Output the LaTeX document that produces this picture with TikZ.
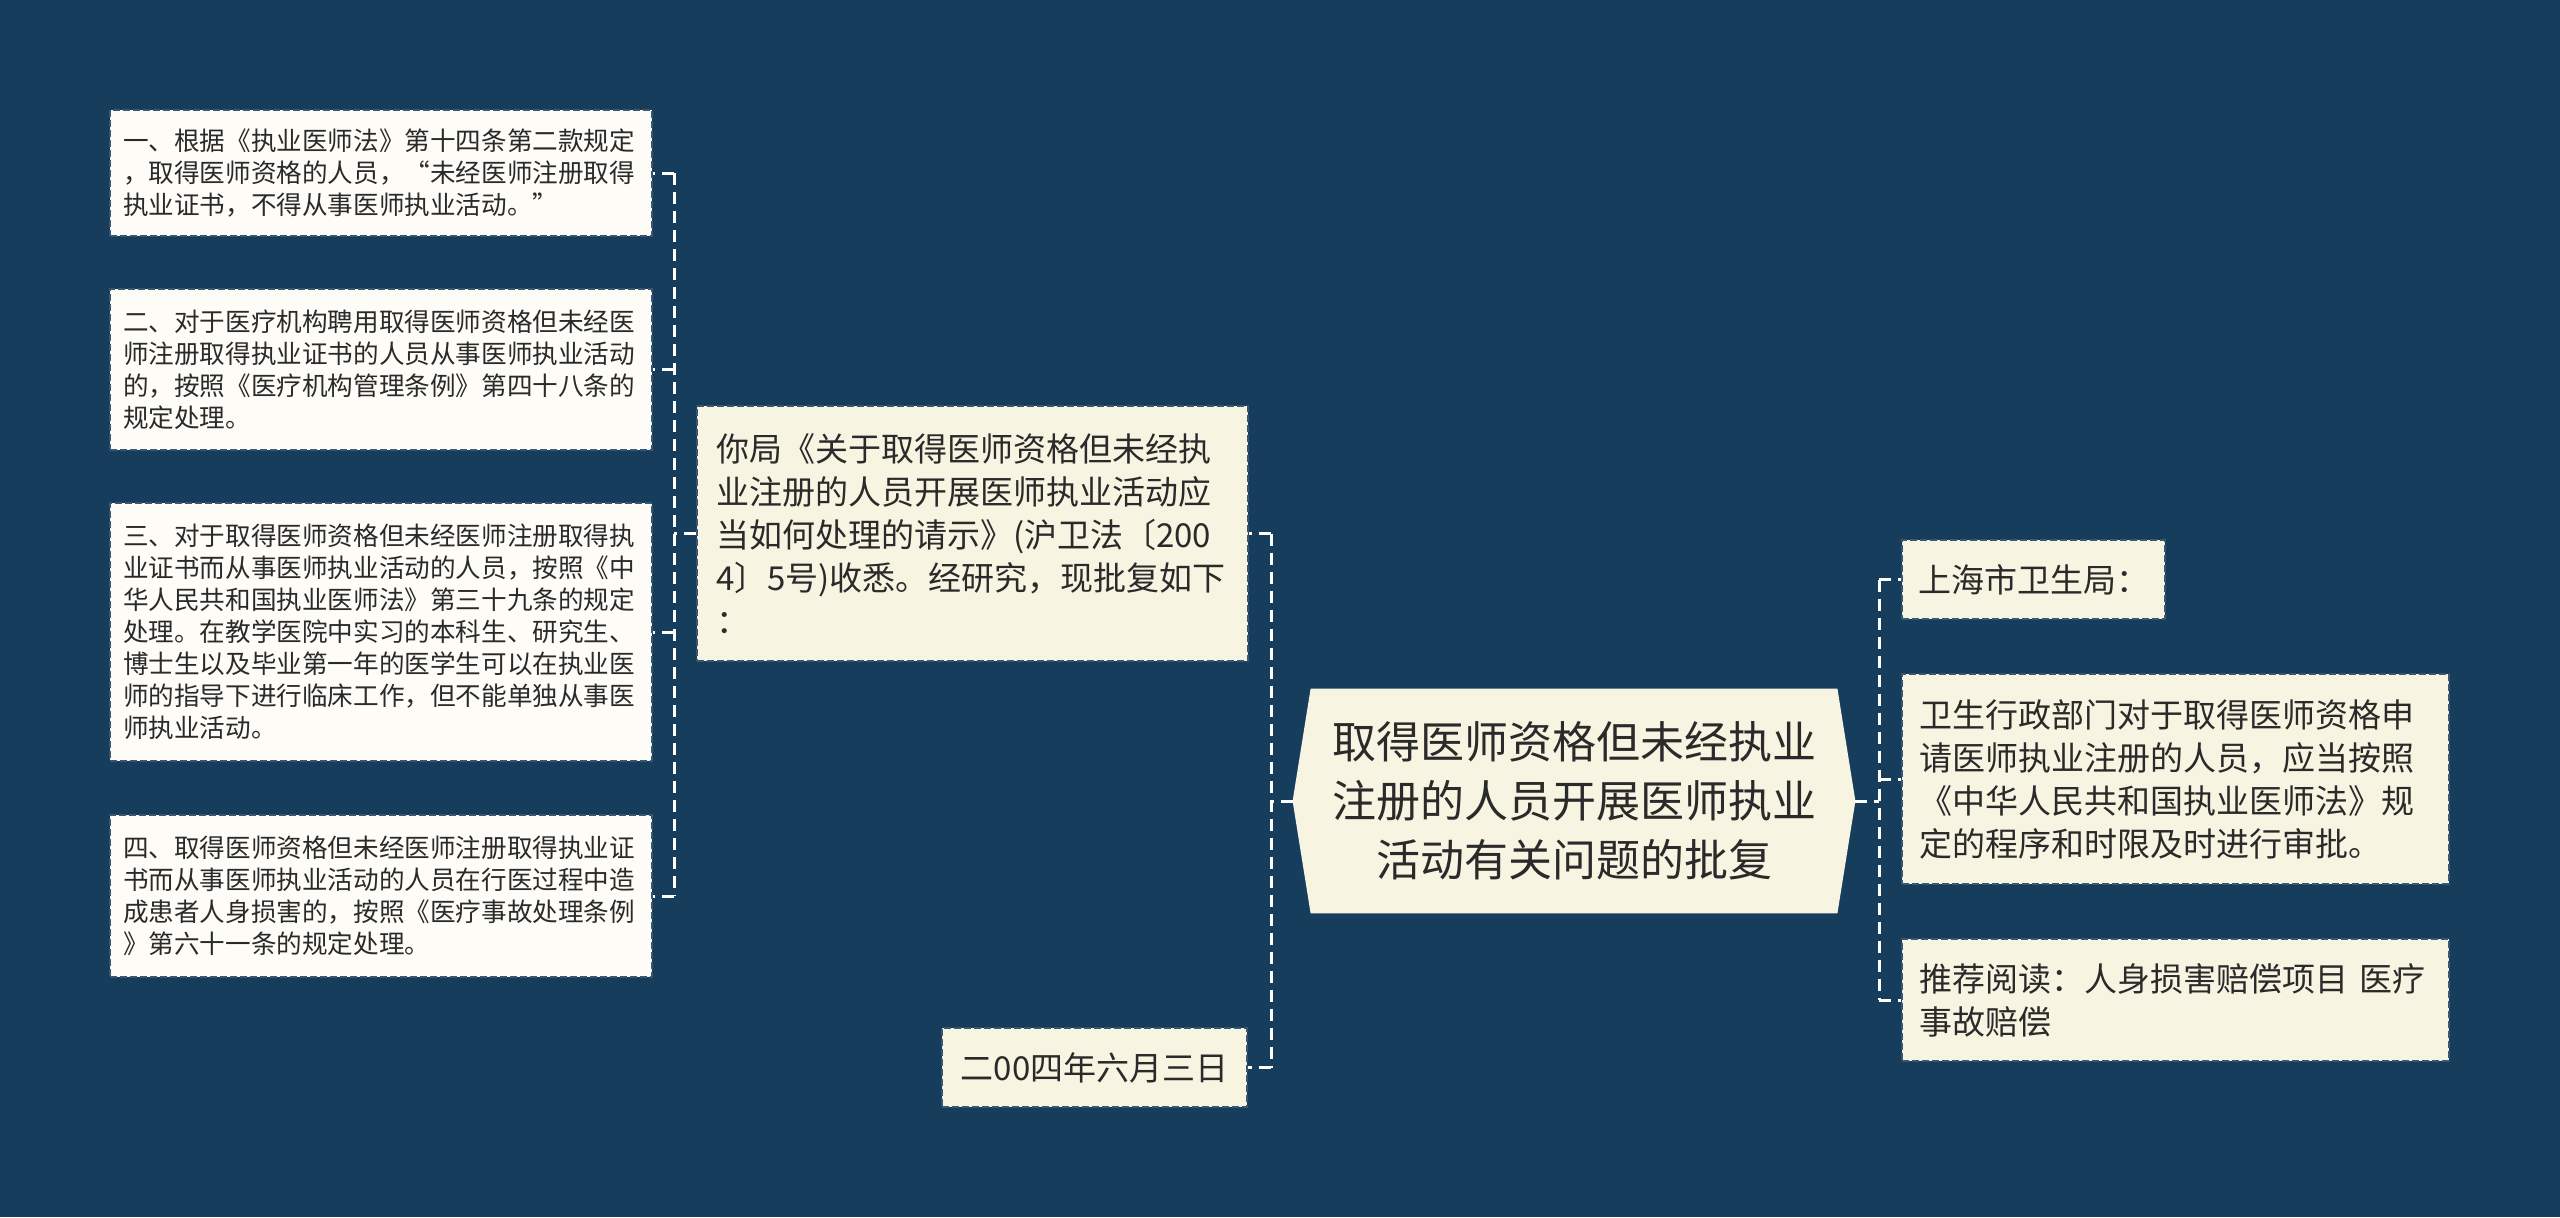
\documentclass[tikz,border=0pt]{standalone}
\usepackage{fontspec}
\setmainfont{Noto Sans CJK SC}
\usetikzlibrary{calc}
\definecolor{bgc}{HTML}{173D5D}
\definecolor{lvlone}{HTML}{F8F4E2}
\definecolor{leaff}{HTML}{FDFCF6}
\definecolor{txt}{HTML}{2A2A2A}
\definecolor{bord}{HTML}{3A5670}
\pgfdeclarelayer{back}
\pgfdeclarelayer{bg}
\pgfsetlayers{back,bg,main}
\begin{document}
\begin{tikzpicture}[x=0.5pt,y=-0.5pt,
 box/.style={draw=bord, line width=1pt, dash pattern=on 3.5pt off 1.5pt, text=txt, inner sep=0pt},
 leaf/.style={box, fill=leaff, align=left, font=\fontsize{12.8}{16}\selectfont, inner xsep=6.5pt, text width=258pt},
 subbox/.style={box, fill=lvlone, font=\fontsize{16.5}{21.5}\selectfont},
 conn/.style={white, line width=1.5pt, dash pattern=on 6pt off 3.5pt},
 centre/.style={text=txt, align=center, inner sep=0pt, font=\fontsize{22}{29.5}\selectfont, minimum width=263pt, minimum height=112pt},
]
\useasboundingbox (0,0) rectangle (2560,1217);
\begin{pgfonlayer}{back}
\fill[bgc] (0,0) rectangle (2560,1217);
\end{pgfonlayer}

% central node
\node[centre] (c) at (1574,801) {取得医师资格但未经执业\\注册的人员开展医师执业\\活动有关问题的批复};
\coordinate (cl) at ($(c.west)+(-18,0)$);
\coordinate (cr) at ($(c.east)+(18,0)$);
\begin{pgfonlayer}{bg}
\fill[lvlone] (cl) -- (c.north west) -- (c.north east) -- (cr) -- (c.south east) -- (c.south west) -- cycle;
\end{pgfonlayer}

% left level one
\node[subbox, align=left, inner xsep=9.5pt, text width=256.5pt, minimum height=127.5pt] (n1) at (972.5,533.5)
 {你局《关于取得医师资格但未经执\\业注册的人员开展医师执业活动应\\当如何处理的请示》(沪卫法〔200\\4〕5号)收悉。经研究，现批复如下\\：};
\node[subbox, minimum width=152.5pt, minimum height=39.5pt] (d) at (1094.5,1067.5) {二00四年六月三日};

% left leaves
\node[leaf, minimum height=63pt] (l1) at (381,173)
 {一、根据《执业医师法》第十四条第二款规定\\，取得医师资格的人员，“未经医师注册取得\\执业证书，不得从事医师执业活动。”};
\node[leaf, minimum height=80.5pt] (l2) at (381,369.5)
 {二、对于医疗机构聘用取得医师资格但未经医\\师注册取得执业证书的人员从事医师执业活动\\的，按照《医疗机构管理条例》第四十八条的\\规定处理。};
\node[leaf, minimum height=129pt] (l3) at (381,632)
 {三、对于取得医师资格但未经医师注册取得执\\业证书而从事医师执业活动的人员，按照《中\\华人民共和国执业医师法》第三十九条的规定\\处理。在教学医院中实习的本科生、研究生、\\博士生以及毕业第一年的医学生可以在执业医\\师的指导下进行临床工作，但不能单独从事医\\师执业活动。};
\node[leaf, minimum height=81pt] (l4) at (381,896)
 {四、取得医师资格但未经医师注册取得执业证\\书而从事医师执业活动的人员在行医过程中造\\成患者人身损害的，按照《医疗事故处理条例\\》第六十一条的规定处理。};

% right level one
\node[subbox, minimum width=131.5pt, minimum height=39.5pt] (r1) at (2033.5,579.5) {上海市卫生局：};
\node[subbox, align=left, inner xsep=8.5pt, text width=256.5pt, minimum height=105pt] (r2) at (2175.5,779)
 {卫生行政部门对于取得医师资格申\\请医师执业注册的人员，应当按照\\《中华人民共和国执业医师法》规\\定的程序和时限及时进行审批。};
\node[subbox, align=left, inner xsep=8.5pt, text width=256.5pt, minimum height=61pt] (r3) at (2175.5,1000)
 {推荐阅读：人身损害赔偿项目 医疗\\事故赔偿};

% connectors: n1 to leaves
\coordinate (ja) at (674,0);
\draw[conn] (n1.west) -- (ja |- n1.west);
\draw[conn] (ja |- l1.east) -- (ja |- l4.east);
\foreach \n in {l1,l2,l3,l4} { \draw[conn] (ja |- \n.east) -- (\n.east); }

% centre to left
\coordinate (jb) at (1271,0);
\draw[conn] (cl) -- (jb |- cl);
\draw[conn] (jb |- n1.east) -- (jb |- d.east);
\draw[conn] (jb |- n1.east) -- (n1.east);
\draw[conn] (jb |- d.east) -- (d.east);

% centre to right
\coordinate (jc) at (1879,0);
\draw[conn] (cr) -- (jc |- cr);
\draw[conn] (jc |- r1.west) -- (jc |- r3.west);
\foreach \n in {r1,r2,r3} { \draw[conn] (jc |- \n.west) -- (\n.west); }
\end{tikzpicture}
\end{document}
